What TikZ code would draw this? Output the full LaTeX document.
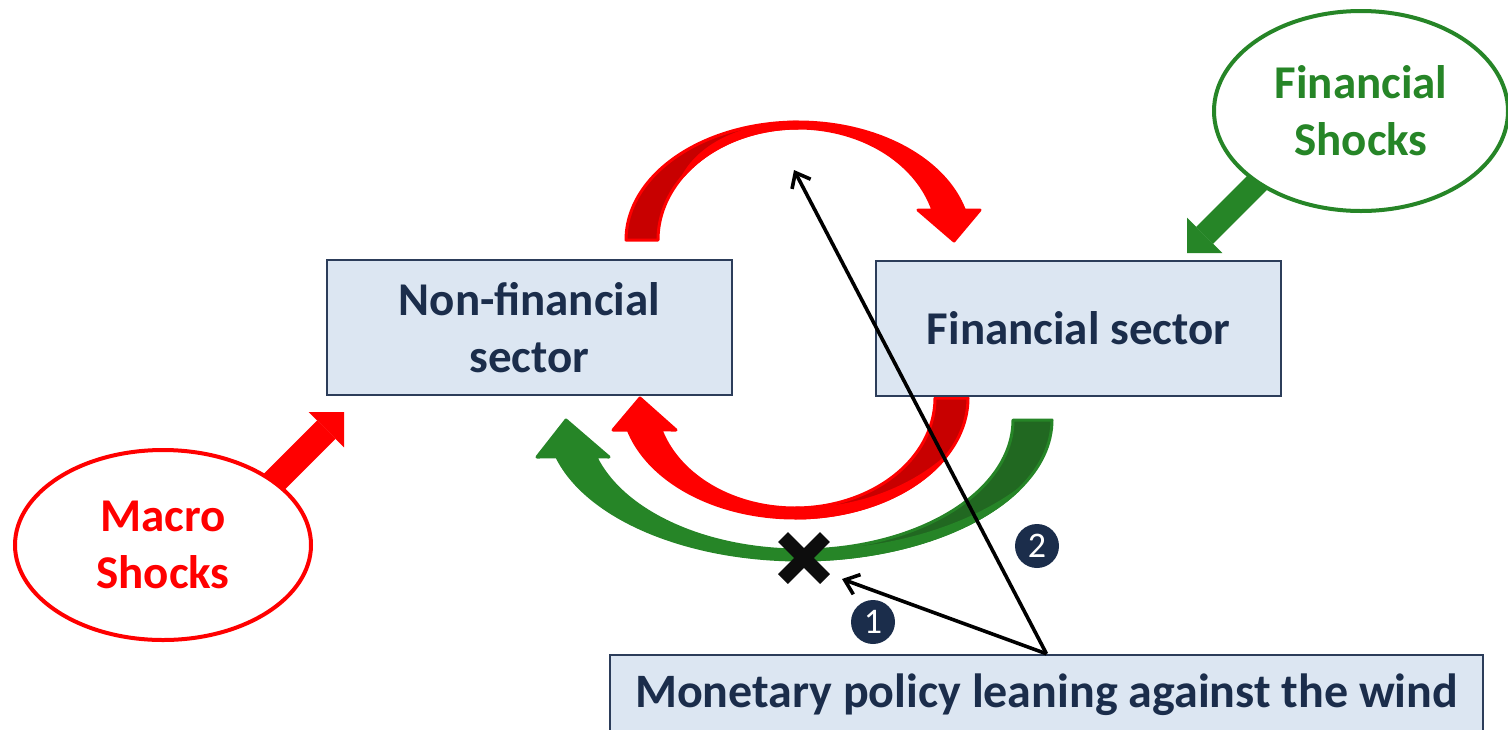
\documentclass[tikz,border=0pt]{standalone}
\usepackage{fontspec}
\setmainfont{Carlito}
\usetikzlibrary{shapes.geometric,arrows.meta}

\definecolor{navy}{HTML}{1B2D4B}
\definecolor{boxfill}{HTML}{DCE6F2}
\definecolor{boxline}{HTML}{2C3D5A}
\definecolor{shockred}{HTML}{FF0000}
\definecolor{shockreddark}{HTML}{C80000}
\definecolor{shockgreen}{HTML}{268527}
\definecolor{shockgreendark}{HTML}{216821}

\newcommand\labelfont{\fontsize{47}{57}\selectfont\bfseries}

\begin{document}
\begin{tikzpicture}[x=1pt,y=-1pt,
  sectorbox/.style={draw=boxline, line width=2.4pt, fill=boxfill, text=navy,
    align=center, font=\labelfont, inner sep=0pt},
  shockoval/.style={ellipse, draw=#1, text=#1, line width=4pt, fill=white,
    align=center, font=\labelfont, inner sep=0pt},
  band/.style 2 args={fill=#1, draw=#2, line width=3pt, line join=round},
  blockarrow/.style 2 args={draw=#1, line width=#2,
    -{Triangle[length=25pt,width=50pt,line width=0pt]}},
  policyarrow/.style={draw=black, line width=3.6pt,
    -{Straight Barb[length=13pt,width=21pt]}},
  numdot/.style={circle, fill=navy, text=white, minimum size=44pt,
    inner sep=0pt, font=\fontsize{36}{36}\selectfont},
  crossstroke/.style={draw=black!95, line width=14pt}
]
\useasboundingbox (0,0) rectangle (1508,729);
\clip (0,0) rectangle (1508,729);

% ---- upper loop: non-financial -> financial (red) ----
\path[band={shockreddark}{shockred}]
  plot[domain=180:270,samples=50] ({798+172*cos(\x)},{240+118*sin(\x)})
  -- plot[domain=270:180,samples=50] ({798+140*cos(\x)},{240+112*sin(\x)}) -- cycle;
\path[band={shockred}{shockred}]
  plot[domain=215:270,samples=30] ({798+(140+32*(\x-215)/55)*cos(\x)},{240+(112+6*(\x-215)/55)*sin(\x)})
  -- plot[domain=270:345.3,samples=50] ({798+172*cos(\x)},{240+118*sin(\x)})
  -- (980,210) -- (954,241) -- (918,210)
  -- plot[domain=344.5:215,samples=60] ({798+140*cos(\x)},{240+112*sin(\x)}) -- cycle;

% ---- lower loop: financial -> non-financial (green, outer) ----
\path[band={shockgreendark}{shockgreen}]
  plot[domain=0:90,samples=50] ({800+252*cos(\x)},{420+140*sin(\x)})
  -- plot[domain=90:0,samples=50] ({800+213*cos(\x)},{420+130*sin(\x)}) -- cycle;
\path[band={shockgreen}{shockgreen}]
  plot[domain=30:164.7,samples=80] ({800+252*cos(\x)},{420+140*sin(\x)})
  -- (537,457) -- (566,420) -- (609,457)
  -- plot[domain=163.5:90,samples=50] ({800+213*cos(\x)},{420+130*sin(\x)})
  -- plot[domain=90:30,samples=40] ({800+(252-39*(\x-30)/60)*cos(\x)},{420+(140-10*(\x-30)/60)*sin(\x)}) -- cycle;

% ---- lower loop: financial -> non-financial (red, inner) ----
\path[band={shockreddark}{shockred}]
  plot[domain=0:90,samples=50] ({795+173*cos(\x)},{398+120*sin(\x)})
  -- plot[domain=90:0,samples=50] ({795+140*cos(\x)},{398+110*sin(\x)}) -- cycle;
\path[band={shockred}{shockred}]
  plot[domain=30:164.5,samples=80] ({795+173*cos(\x)},{398+120*sin(\x)})
  -- (613,430) -- (640,398) -- (676,430)
  -- plot[domain=163.1:90,samples=50] ({795+140*cos(\x)},{398+110*sin(\x)})
  -- plot[domain=90:30,samples=40] ({795+(173-33*(\x-30)/60)*cos(\x)},{398+(120-10*(\x-30)/60)*sin(\x)}) -- cycle;

% ---- sector boxes ----
\node[sectorbox, minimum width=405pt, minimum height=135pt] (nonfin) at (529.5,327.5) {Non-financial\\sector};
\node[sectorbox, minimum width=405pt, minimum height=135pt] (fin) at (1078.5,328.5) {\raisebox{-3pt}{Financial sector}};
\node[sectorbox, minimum width=873pt, minimum height=80pt,
      font=\fontsize{48}{57}\selectfont\bfseries] (policy) at (1046.5,695) {\raisebox{-2pt}{Monetary policy leaning against the wind}};

% ---- shocks ----
\coordinate (macroTail) at (268,488);
\coordinate (macroTip) at (344,412);
\coordinate (finTail) at (1262,178);
\coordinate (finTip) at (1187,253);
\draw[blockarrow={shockred}{26pt}] (macroTail) -- (macroTip);
\draw[blockarrow={shockgreen}{24pt}] (finTail) -- (finTip);

\node[shockoval=shockred, minimum width=296pt, minimum height=190pt] (macro) at (163,545) {Macro\\Shocks};
\node[shockoval=shockgreen, minimum width=294pt, minimum height=200pt] (finshock) at (1361,111) {Financial\\Shocks};

% ---- blocked channel ----
\draw[crossstroke] (783,537) -- (825,579) (783,579) -- (825,537);

% ---- policy channels ----
\coordinate (hitOne) at (842,579);
\coordinate (hitTwo) at (794,170);
\draw[policyarrow] (policy.north) -- (hitOne);
\draw[policyarrow] (policy.north) -- (hitTwo);

\node[numdot] (one) at (873,622) {1};
\node[numdot] (two) at (1037,546) {2};
\end{tikzpicture}
\end{document}
